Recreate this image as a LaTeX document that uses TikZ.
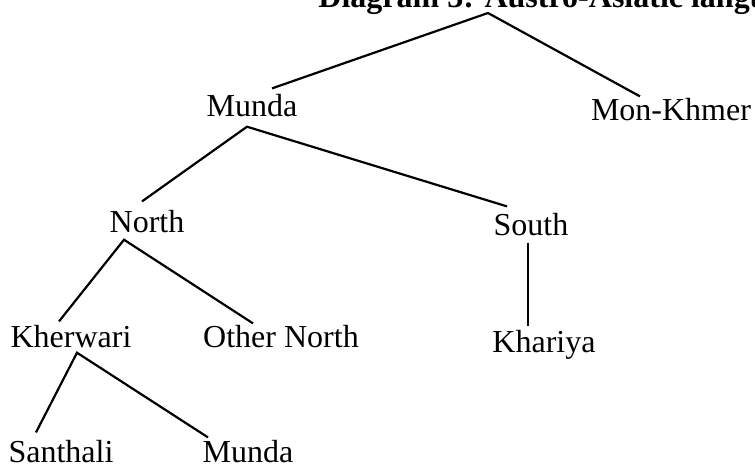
\documentclass[tikz,border=0pt]{standalone}
\usepackage{fontspec}
\setmainfont{Liberation Serif}
\usetikzlibrary{calc}

\begin{document}
\begin{tikzpicture}[x=0.5pt,y=-0.5pt,
  lang/.style={font=\fontsize{16}{19}\selectfont, inner sep=0pt, anchor=base},
  branch/.style={line width=1.1pt}]
\useasboundingbox (0,0) rectangle (755,466);
\clip (0,0) rectangle (755,466); % title runs off the page
\node[lang, anchor=base west, font=\fontsize{16}{19}\selectfont\bfseries] (title) at (318,7) {Diagram 3: Austro-Asiatic languages};
\coordinate (root) at (488,13);
% first level
\node[lang] (munda) at (252,116) {Munda};
\node[lang] (monkhmer) at (671,120) {Mon-Khmer};
% second level
\node[lang] (north) at (147,232) {North};
\node[lang] (south) at (531,235) {South};
% third level
\node[lang] (kherwari) at (71,347) {Kherwari};
\node[lang] (othernorth) at (281,347) {Other North};
\node[lang] (khariya) at (544,352) {Khariya};
% fourth level
\node[lang] (santhali) at (61,462) {Santhali};
\node[lang] (mundab) at (248,462) {Munda};

\draw[branch] ([shift={(20,-5)}]munda.north) -- (root) -- ([shift={(-31,-1)}]monkhmer.north);
\draw[branch] ([shift={(-5,-8)}]north.north) -- ([shift={(-5,10)}]munda.south) -- ([shift={(-24,-6)}]south.north);
\draw[branch] ([shift={(-12,-3)}]kherwari.north) -- ([shift={(-23,7)}]north.south) -- ([shift={(-28,-1)}]othernorth.north);
\draw[branch] ([shift={(-25,-7)}]santhali.north) -- ([shift={(6,5)}]kherwari.south) -- ([shift={(-40,-2)}]mundab.north);
\draw[branch] ([shift={(-3,7)}]south.south) -- ([shift={(-16,-3)}]khariya.north);
\end{tikzpicture}
\end{document}
